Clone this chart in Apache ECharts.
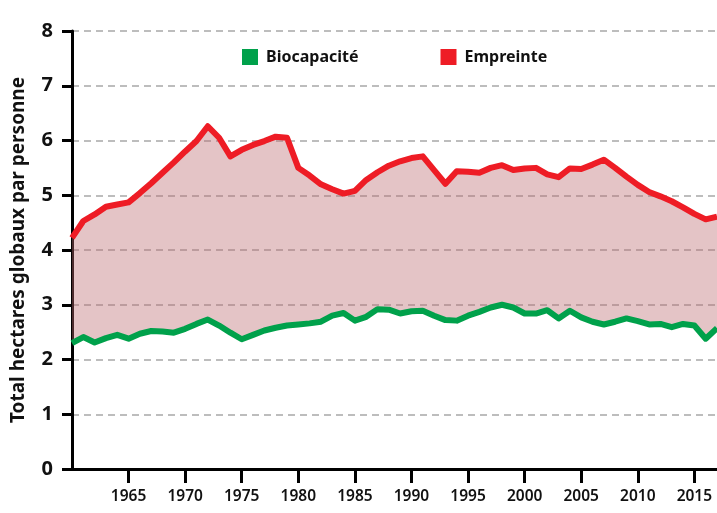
<!doctype html>
<html>
<head>
    <meta charset="UTF-8">
    <title>Empreinte et biocapacité</title>
    <script src="https://cdn.jsdelivr.net/npm/echarts@6/dist/echarts.min.js"></script>
    <style>
        html, body { margin: 0; padding: 0; background: #fff; }
        #main { width: 717px; height: 513px; }
    </style>
</head>
<body>
<div id="main"></div>
<script>
    // années 1960 - 2017
    var years = [];
    for (var y = 1960; y <= 2017; y++) years.push(String(y));

    // Empreinte (hag par personne)
    var empreinte = [
        4.22, 4.53, 4.65, 4.79, 4.83, 4.87, 5.04, 5.22, 5.41, 5.60,
        5.80, 5.99, 6.26, 6.05, 5.71, 5.83, 5.92, 5.99, 6.07, 6.05,
        5.50, 5.36, 5.20, 5.11, 5.03, 5.08, 5.28, 5.42, 5.54, 5.62,
        5.68, 5.71, 5.46, 5.21, 5.44, 5.43, 5.41, 5.50, 5.55, 5.46,
        5.49, 5.50, 5.38, 5.33, 5.49, 5.48, 5.56, 5.65, 5.50, 5.34,
        5.19, 5.06, 4.98, 4.89, 4.78, 4.66, 4.56, 4.61
    ];

    // Biocapacité (hag par personne)
    var biocapacite = [
        2.30, 2.41, 2.31, 2.39, 2.45, 2.38, 2.47, 2.52, 2.51, 2.49,
        2.56, 2.65, 2.73, 2.62, 2.49, 2.37, 2.45, 2.53, 2.58, 2.62,
        2.64, 2.66, 2.69, 2.80, 2.85, 2.71, 2.78, 2.92, 2.91, 2.84,
        2.88, 2.89, 2.80, 2.72, 2.71, 2.80, 2.87, 2.95, 3.00, 2.95,
        2.84, 2.84, 2.90, 2.75, 2.89, 2.77, 2.69, 2.64, 2.69, 2.75,
        2.70, 2.64, 2.65, 2.59, 2.65, 2.62, 2.38, 2.57
    ];

    // années affichées sous l'axe
    var xTicks = ['1965', '1970', '1975', '1980', '1985', '1990', '1995', '2000', '2005', '2010', '2015'];

    var fontFam = '"Noto Sans", "Open Sans", sans-serif';

    // écart entre les deux courbes (zone remplie)
    var ecart = empreinte.map(function (v, i) { return +(v - biocapacite[i]).toFixed(2); });

    function showYear(index, value) {
        return xTicks.indexOf(String(value)) >= 0;
    }

    var myChart = echarts.init(document.getElementById('main'));
    var option = {
        animation: false,
        grid: { left: 72, right: 0, top: 31, bottom: 44 },
        legend: {
            data: ['Biocapacité', 'Empreinte'],
            left: 242,
            top: 49,
            padding: 0,
            icon: 'rect',
            itemWidth: 16,
            itemHeight: 16,
            itemGap: 82,
            textStyle: { fontFamily: fontFam, fontWeight: 'bold', fontSize: 16, color: '#111', padding: [0, 0, 0, 3] }
        },
        xAxis: {
            type: 'category',
            data: years,
            boundaryGap: false,
            splitLine: { show: false },
            axisLine: { lineStyle: { color: '#000', width: 3 } },
            axisTick: { interval: showYear, length: 14, lineStyle: { color: '#000', width: 3 } },
            axisLabel: {
                interval: showYear,
                margin: 20,
                fontFamily: fontFam, fontWeight: 600, fontSize: 15.5, color: '#111'
            }
        },
        yAxis: {
            type: 'value',
            min: 0,
            max: 8,
            interval: 1,
            name: 'Total hectares globaux par personne',
            nameLocation: 'middle',
            nameRotate: 90,
            nameGap: 44,
            nameTextStyle: { fontFamily: fontFam, fontWeight: 'bold', fontSize: 19, color: '#111' },
            axisLine: { show: true, lineStyle: { color: '#000', width: 3 } },
            axisTick: { show: true, length: 10, lineStyle: { color: '#000', width: 3 } },
            axisLabel: { margin: 19, fontFamily: fontFam, fontWeight: 'bold', fontSize: 20, color: '#111' },
            splitLine: { show: true, lineStyle: { color: '#a8a8a8', width: 1.5, type: [7, 5] } }
        },
        series: [
            {
                name: 'base',
                type: 'line',
                stack: 'zone',
                data: biocapacite,
                symbol: 'none',
                silent: true,
                lineStyle: { width: 0 }
            },
            {
                name: 'zone',
                type: 'line',
                stack: 'zone',
                data: ecart,
                symbol: 'none',
                silent: true,
                lineStyle: { width: 0 },
                areaStyle: { color: 'rgba(188,108,112,0.4)', opacity: 1 }
            },
            {
                name: 'Biocapacité',
                type: 'line',
                data: biocapacite,
                symbol: 'none',
                itemStyle: { color: '#00a14b' },
                lineStyle: { color: '#00a14b', width: 6, join: 'round' }
            },
            {
                name: 'Empreinte',
                type: 'line',
                data: empreinte,
                symbol: 'none',
                itemStyle: { color: '#ee1c25' },
                lineStyle: { color: '#ee1c25', width: 6, join: 'round' }
            }
        ]
    };
    myChart.setOption(option);
</script>
</body>
</html>
